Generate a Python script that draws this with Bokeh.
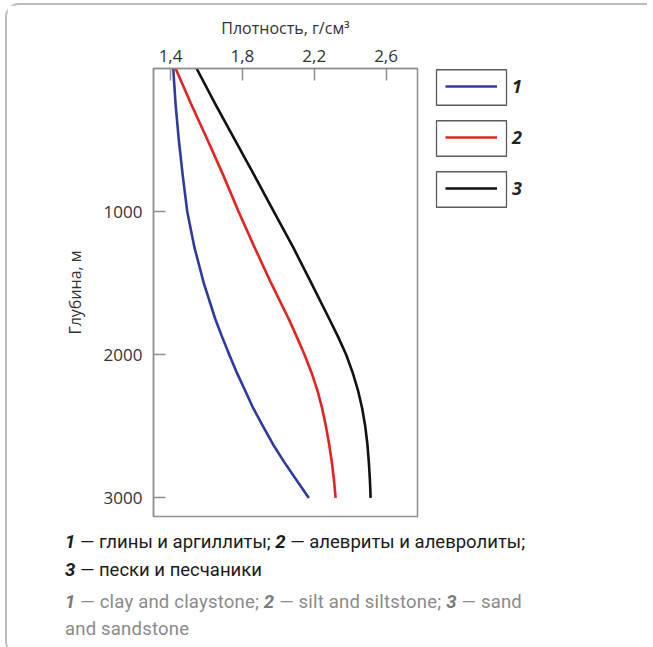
from bokeh.plotting import figure
from bokeh.layouts import column, row
from bokeh.models import Range1d, FixedTicker, Legend, LegendItem, Div
from bokeh.embed import file_html
from bokeh.resources import INLINE

# ---- data ----
depth_m = [0, 250, 500, 750, 1000, 1250, 1500, 1750, 1875, 2000, 2125, 2250, 2375, 2500, 2625, 2750, 2875, 3000]
density_clay = [1.415, 1.428, 1.446, 1.468, 1.493, 1.533, 1.585, 1.649, 1.687, 1.727, 1.769, 1.815, 1.861,
                1.915, 1.970, 2.033, 2.101, 2.170]
density_silt = [1.428, 1.515, 1.606, 1.695, 1.779, 1.868, 1.960, 2.058, 2.103, 2.146, 2.185, 2.218, 2.244,
                2.265, 2.283, 2.298, 2.310, 2.319]
density_sand = [1.545, 1.650, 1.759, 1.868, 1.975, 2.083, 2.184, 2.284, 2.333, 2.378, 2.414, 2.444, 2.467,
                2.484, 2.496, 2.504, 2.510, 2.514]
series_labels = ["1", "2", "3"]
series_colors = ["#2f3b9c", "#e2231f", "#111111"]

x_ticks = [1.4, 1.8, 2.2, 2.6]
x_tick_labels = ["1,4", "1,8", "2,2", "2,6"]
y_ticks = [1000, 2000, 3000]
y_tick_labels = ["1000", "2000", "3000"]
x_title = "Плотность, г/см³"
y_title = "Глубина, м"

caption_ru = [("1", "глины и аргиллиты;"), ("2", "алевриты и алевролиты;"), ("3", "пески и песчаники")]
caption_en = [("1", "clay and claystone;"), ("2", "silt and siltstone;"), ("3", "sand and sandstone")]

FONT = "Open Sans"
AXIS_GRAY = "#8e8e8e"

# ---- main chart ----
TOP, BOTTOM_BORDER, H = 63, 10, 521
p = figure(width=420, height=H,
           x_range=Range1d(1.305, 2.775), y_range=Range1d(3130, 0),
           x_axis_location="above",
           output_backend="svg", toolbar_location=None,
           min_border_left=146, min_border_top=TOP, min_border_right=10, min_border_bottom=BOTTOM_BORDER,
           background_fill_color="white", border_fill_color="white")
p.xgrid.visible = False
p.ygrid.visible = False
p.outline_line_color = AXIS_GRAY
p.outline_line_width = 1.5

for vals, col in zip([density_clay, density_silt, density_sand], series_colors):
    p.line(vals, depth_m, line_color=col, line_width=2.6, line_join="round")

for ax in (p.xaxis[0], p.yaxis[0]):
    ax.axis_line_color = AXIS_GRAY
    ax.axis_line_width = 1.5
    ax.major_tick_line_color = AXIS_GRAY
    ax.major_tick_line_width = 1.5
    ax.major_tick_in = 12
    ax.major_tick_out = 0
    ax.minor_tick_line_color = None
    ax.major_label_text_font = FONT
    ax.major_label_text_font_size = "17px"
    ax.major_label_text_color = "#333333"
    ax.axis_label_text_font = FONT
    ax.axis_label_text_font_size = "16px"
    ax.axis_label_text_font_style = "normal"
    ax.axis_label_text_color = "#333333"

p.xaxis.ticker = FixedTicker(ticks=x_ticks)
p.xaxis.major_label_overrides = dict(zip(x_ticks, x_tick_labels))
p.xaxis.axis_label = x_title
p.xaxis.major_label_standoff = 7
p.xaxis.axis_label_standoff = 8

p.yaxis.ticker = FixedTicker(ticks=y_ticks)
p.yaxis.major_label_overrides = dict(zip(y_ticks, y_tick_labels))
p.yaxis.axis_label = y_title
p.yaxis.major_label_standoff = 11
p.yaxis.axis_label_standoff = 15

# ---- legend panel: data units = canvas pixels (frame is aligned with the chart frame) ----
LW = 120
pl = figure(width=LW, height=H, x_range=Range1d(0, LW), y_range=Range1d(H - BOTTOM_BORDER, TOP),
            x_axis_type=None, y_axis_type=None, output_backend="svg", toolbar_location=None,
            min_border=0, background_fill_color="white", border_fill_color="white")
pl.xgrid.visible = False
pl.ygrid.visible = False
pl.outline_line_color = None

first_center, pitch = 81, 51
glyph_left, glyph_w, glyph_h = 18, 52, 30
n = len(series_labels)
centers = [first_center + i * pitch for i in range(n)]
pl.rect(x=[glyph_left + glyph_w / 2] * n, y=[c + 1 for c in centers], width=70, height=35.5,
        fill_alpha=0, line_color="#5a5a5a", line_width=1.3)
dummies = [pl.line(x=[-20, -10], y=[-20, -10], line_color=c, line_width=2.6) for c in series_colors]
legend_top = first_center - glyph_h / 2
legend_height = n * glyph_h + (n - 1) * (pitch - glyph_h)
legend = Legend(items=[LegendItem(label=l, renderers=[r]) for l, r in zip(series_labels, dummies)],
                location=(glyph_left, (H - BOTTOM_BORDER) - (legend_top + legend_height)),
                glyph_width=glyph_w, glyph_height=glyph_h, label_height=glyph_h, label_width=10,
                padding=0, spacing=pitch - glyph_h, margin=0, label_standoff=15,
                label_text_font=FONT, label_text_font_size="18px", label_text_font_style="bold italic",
                label_text_color="#222222", border_line_color=None, background_fill_alpha=0)
pl.add_layout(legend)

# ---- captions ----
def caption_parts(items, num_color):
    return [f'<b><i style="color:{num_color}">{num}</i></b> — {txt}' for num, txt in items]

ru = caption_parts(caption_ru, "#1a1a1a")
en = caption_parts(caption_en, "#7a7a7a")
html = (
    '<div style="font-family:Roboto;font-size:18.5px;padding-left:53px;white-space:nowrap;">'
    f'<div style="color:#1a1a1a;line-height:28.4px;margin-top:-3.5px;">{ru[0]} {ru[1]}<br>{ru[2]}</div>'
    f'<div style="color:#8a8a8a;line-height:27.4px;margin-top:4.7px;letter-spacing:0.2px;">{en[0]} {en[1]} '
    f'{en[2].replace(" and sandstone", "<br>and sandstone")}</div>'
    '</div>'
)
cap = Div(text=html, width=630, height=119)

layout = column(row(p, pl), cap,
                styles={"margin-left": "5px", "margin-top": "3px",
                        "border-top": "2px solid #bcbcbc", "border-left": "2px solid #bcbcbc",
                        "border-radius": "14px 0 0 14px"})

open("out.html", "w").write(file_html(layout, INLINE))
